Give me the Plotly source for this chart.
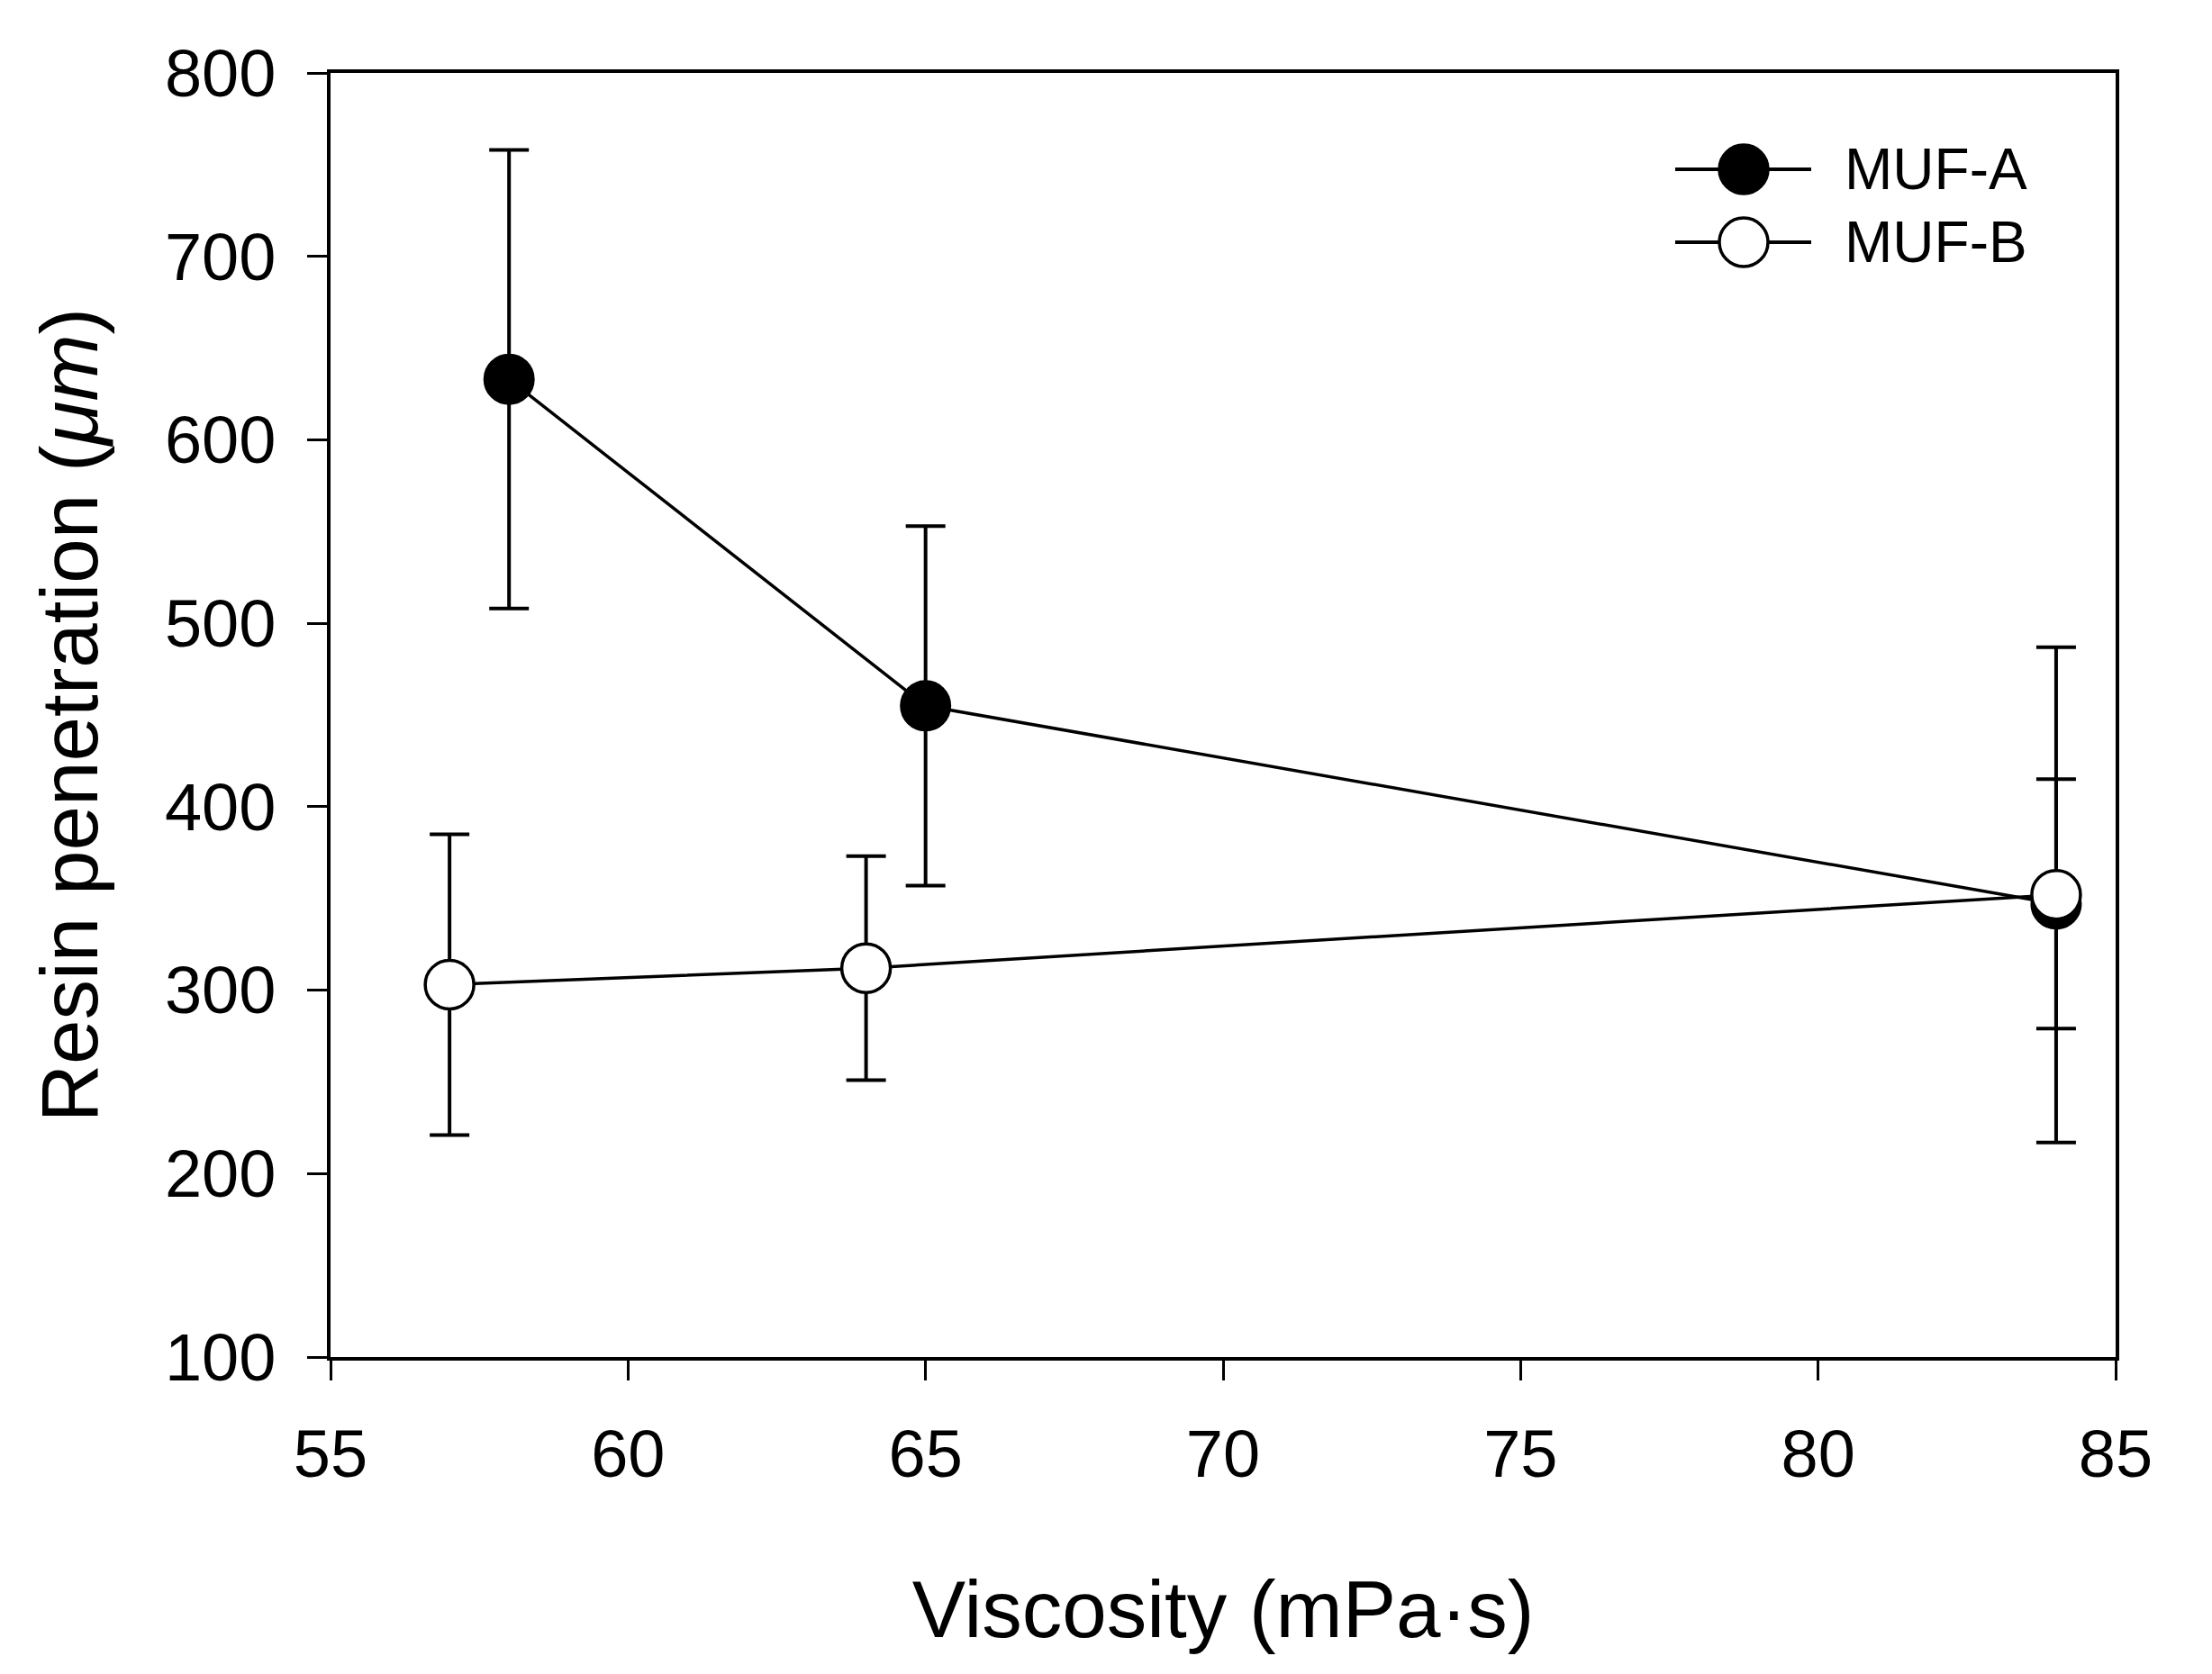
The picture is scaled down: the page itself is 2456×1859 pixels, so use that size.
import plotly.graph_objects as go

# Data
viscosity_a = [58, 65, 84]
penetration_a = [633, 455, 347]
error_a = [125, 98, 68]

viscosity_b = [57, 64, 84]
penetration_b = [303, 312, 352]
error_b = [82, 61, 135]

x_ticks = [55, 60, 65, 70, 75, 80, 85]
y_ticks = [100, 200, 300, 400, 500, 600, 700, 800]

series_names = ["MUF-A", "MUF-B"]

FONT = "Liberation Sans, Arial, sans-serif"
OFF = 8  # page body margin
W, H = 2456 - OFF, 1859 - OFF
L, R, T, B = 367 - OFF, 107, 81 - OFF, 352

fig = go.Figure()

fig.add_trace(go.Scatter(
    x=viscosity_a, y=penetration_a, name=series_names[0], mode="lines+markers",
    line=dict(color="black", width=3.5),
    marker=dict(size=54, color="black", line=dict(color="black", width=3)),
    error_y=dict(type="data", array=error_a, visible=True, color="black",
                 thickness=4, width=22),
    showlegend=False,
))
fig.add_trace(go.Scatter(
    x=viscosity_b, y=penetration_b, name=series_names[1], mode="lines+markers",
    line=dict(color="black", width=3.5),
    marker=dict(size=54, color="white", line=dict(color="black", width=3.5)),
    error_y=dict(type="data", array=error_b, visible=True, color="black",
                 thickness=4, width=22),
    showlegend=False,
))

# Custom legend (large symbols like the reference); positions in full-page pixels
pw = 2349 - 367
ph = 1507 - 81
def px_x(p):
    return (p - 367) / pw
def px_y(p):
    return (1507 - p) / ph

legend_rows = [188, 269]
fills = ["black", "white"]
shapes = []
annotations = []
for name, row, fill in zip(series_names, legend_rows, fills):
    yy = px_y(row)
    shapes.append(dict(type="line", xref="paper", yref="paper",
                       x0=px_x(1860), x1=px_x(2011), y0=yy, y1=yy,
                       line=dict(color="black", width=4)))
    shapes.append(dict(type="circle", xref="paper", yref="paper",
                       xsizemode="pixel", ysizemode="pixel",
                       xanchor=px_x(1936), yanchor=yy,
                       x0=-27, x1=27, y0=-27, y1=27,
                       fillcolor=fill, line=dict(color="black", width=3.5)))
    annotations.append(dict(xref="paper", yref="paper", x=px_x(2046), y=yy,
                            text=name, showarrow=False, xanchor="left",
                            yanchor="middle",
                            font=dict(family=FONT, size=64, color="black")))

fig.update_layout(
    width=W, height=H,
    margin=dict(l=L, r=R, t=T, b=B, autoexpand=False),
    paper_bgcolor="white", plot_bgcolor="white",
    font=dict(family=FONT, color="black"),
    shapes=shapes, annotations=annotations,
)

fig.update_xaxes(
    range=[55, 85], tickvals=x_ticks, ticktext=[str(v) for v in x_ticks],
    showgrid=False, zeroline=False,
    showline=True, linecolor="black", linewidth=3.5, mirror=True,
    ticks="outside", ticklen=22, tickwidth=3, tickcolor="black",
    tickfont=dict(family=FONT, size=74, color="black"),
    ticklabelstandoff=18,
    title=dict(text="Viscosity (mPa·s)", font=dict(family=FONT, size=89, color="black"),
               standoff=102),
    automargin=False,
)
fig.update_yaxes(
    range=[100, 800], tickvals=y_ticks, ticktext=[str(v) for v in y_ticks],
    showgrid=False, zeroline=False,
    showline=True, linecolor="black", linewidth=3.5, mirror=True,
    ticks="outside", ticklen=22, tickwidth=3, tickcolor="black",
    tickfont=dict(family=FONT, size=74, color="black"),
    ticklabelstandoff=20,
    title=dict(text="Resin penetration (<i>μm</i>)", font=dict(family=FONT, size=89, color="black"),
               standoff=46),
    automargin=False,
)

fig.write_html("out.html")
